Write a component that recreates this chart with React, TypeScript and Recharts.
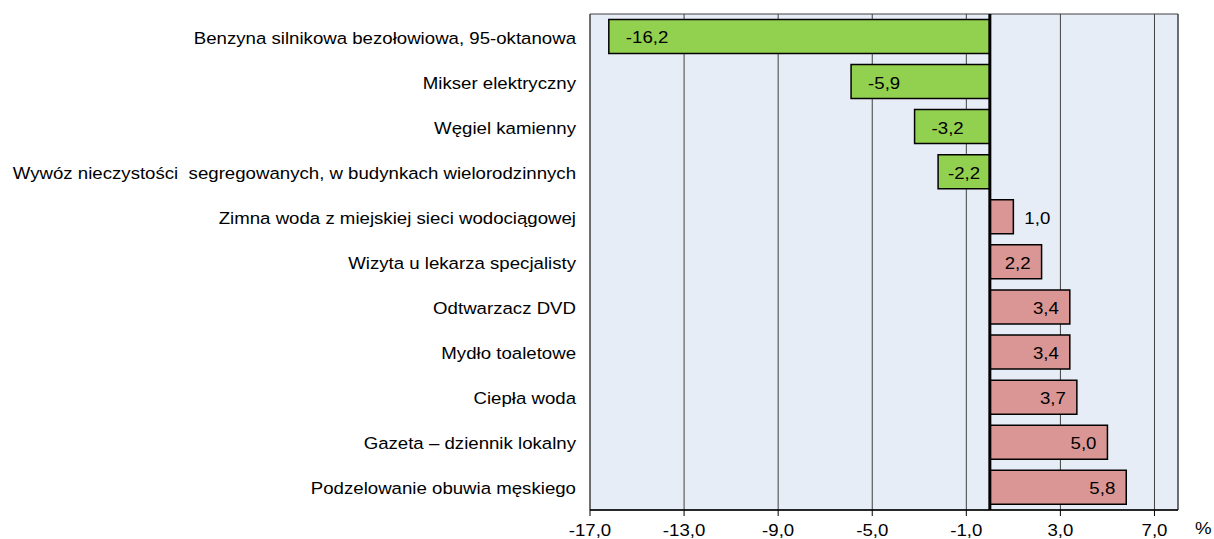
import React from 'react';
import { BarChart, Bar, XAxis, YAxis, CartesianGrid, Cell, LabelList, ReferenceLine, ReferenceArea } from 'recharts';

const categories = [
  'Benzyna silnikowa bezołowiowa, 95-oktanowa',
  'Mikser elektryczny',
  'Węgiel kamienny',
  'Wywóz nieczystości  segregowanych, w budynkach wielorodzinnych',
  'Zimna woda z miejskiej sieci wodociągowej',
  'Wizyta u lekarza specjalisty',
  'Odtwarzacz DVD',
  'Mydło toaletowe',
  'Ciepła woda',
  'Gazeta – dziennik lokalny',
  'Podzelowanie obuwia męskiego',
];

const values = [-16.2, -5.9, -3.2, -2.2, 1.0, 2.2, 3.4, 3.4, 3.7, 5.0, 5.8];

const xTicks = [-17, -13, -9, -5, -1, 3, 7];
const xDomain = [-17, 8];

const GREEN = '#92D050';
const PINK = '#D99694';
const FONT = '"Liberation Sans", Arial, sans-serif';
const FS = 16.8;
const SX = 1.11; // the source text is a little wider than it is tall

const data = categories.map((name, i) => ({ name, value: values[i] }));

const fmt = (v: number) => v.toFixed(1).replace('.', ',');

function Txt({ x, y, anchor, children }: { x: number; y: number; anchor: 'start' | 'middle' | 'end'; children: React.ReactNode }) {
  return (
    <text
      transform={`translate(${x},${y}) scale(${SX},1)`}
      x={0}
      y={0}
      textAnchor={anchor}
      fontSize={FS}
      fill="#000"
      fontFamily={FONT}
      style={{ whiteSpace: 'pre' }}
    >
      {children}
    </text>
  );
}

function CategoryTick(props: any) {
  const { x, y, payload } = props;
  return <Txt x={x} y={y + 7} anchor="end">{payload.value}</Txt>;
}

function NumberTick(props: any) {
  const { x, y, payload } = props;
  return <Txt x={x} y={y + 18} anchor="middle">{fmt(payload.value)}</Txt>;
}

function ValueLabel(props: any) {
  const { x, y, width, height, value } = props;
  const by = y + height / 2 + 7;
  if (value < 0) {
    const w = Math.abs(width);
    const left = x + Math.min(0, width);
    const pad = Math.min(17, (w - 32) / 2);
    return <Txt x={left + pad} y={by} anchor="start">{fmt(value)}</Txt>;
  }
  if (value < 1.5) {
    return <Txt x={x + width + 11} y={by} anchor="start">{fmt(value)}</Txt>;
  }
  return <Txt x={x + width - 11} y={by} anchor="end">{fmt(value)}</Txt>;
}

function PercentLabel(props: any) {
  const { viewBox } = props;
  if (!viewBox) return null;
  return <Txt x={viewBox.x + viewBox.width + 17} y={534} anchor="start">%</Txt>;
}

export default function App() {
  return (
    <div style={{ position: 'absolute', left: 0, top: 0, background: '#fff' }}>
      <BarChart
        width={1214}
        height={539}
        data={data}
        layout="vertical"
        margin={{ top: 14, right: 36, bottom: 0, left: 0 }}
        barCategoryGap="12%"
      >
        <CartesianGrid horizontal={false} stroke="#404040" strokeWidth={1} fill="#E7EDF6" fillOpacity={1} />
        <ReferenceArea x1={-17} x2={8} fill="none" stroke="#404040" strokeWidth={1} ifOverflow="visible" />
        <XAxis
          type="number"
          domain={xDomain}
          ticks={xTicks}
          allowDataOverflow
          tick={<NumberTick />}
          axisLine={{ stroke: '#000', strokeWidth: 1.5 }}
          tickLine={{ stroke: '#000' }}
          tickSize={6}
          tickMargin={2}
          height={29}
          label={{ position: 'right', content: PercentLabel }}
        />
        <YAxis
          type="category"
          dataKey="name"
          width={590}
          axisLine={false}
          tickLine={false}
          tickSize={6}
          tickMargin={8}
          interval={0}
          tick={<CategoryTick />}
        />
        <Bar dataKey="value" stroke="#000" strokeWidth={1.5} isAnimationActive={false}>
          {data.map((d, i) => (
            <Cell key={i} fill={d.value < 0 ? GREEN : PINK} />
          ))}
          <LabelList dataKey="value" content={<ValueLabel />} />
        </Bar>
        <ReferenceLine x={0} stroke="#000" strokeWidth={3} />
      </BarChart>
    </div>
  );
}
